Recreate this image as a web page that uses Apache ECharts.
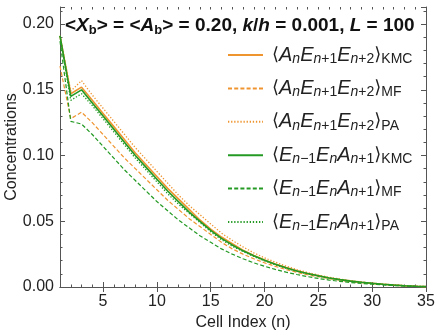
<!DOCTYPE html>
<html>
<head>
<meta charset="utf-8">
<script src="https://cdn.jsdelivr.net/npm/echarts@6/dist/echarts.min.js"></script>
<style>html,body{margin:0;background:#fff}#c{width:438px;height:330px}</style>
</head>
<body>
<div id="c"></div>
<script>
/* concentraciones de tripletes por celda: KMC vs campo medio (MF) vs aprox. de pares (PA) */
const CELL = [1,2,3,4,5,6,7,8,9,10,11,12,13,14,15,16,17,18,19,20,21,22,23,24,25,26,27,28,29,30,31,32,33,34,35];
const X_TICKS = [5,10,15,20,25,30,35];

// <A_n E_n+1 E_n+2>
const AEE_KMC = [0.191,0.147,0.152,0.142,0.132,0.122,0.112,0.102,0.093,0.084,0.075,0.067,0.059,0.051,0.044,0.038,0.033,0.028,0.024,0.0206,0.0175,0.0148,0.0124,0.0103,0.0086,0.0069,0.0056,0.0045,0.0036,0.0028,0.0021,0.0015,0.0010,0.0006,0.0003];
const AEE_MF  = [0.168,0.128,0.133,0.125,0.116,0.107,0.098,0.090,0.082,0.074,0.066,0.059,0.052,0.046,0.040,0.034,0.029,0.025,0.0215,0.0184,0.0157,0.0133,0.0112,0.0093,0.0078,0.0064,0.0052,0.0042,0.0033,0.0026,0.0020,0.0014,0.0009,0.0005,0.0002];
const AEE_PA  = [0.191,0.149,0.157,0.146,0.136,0.126,0.116,0.106,0.097,0.088,0.079,0.070,0.062,0.055,0.048,0.041,0.0355,0.0305,0.026,0.0222,0.0189,0.0159,0.0133,0.0110,0.0091,0.0074,0.0060,0.0048,0.0038,0.0029,0.0022,0.0016,0.0011,0.0006,0.0003];
// <E_n-1 E_n A_n+1>
const EEA_KMC = [0.191,0.145,0.150,0.140,0.130,0.120,0.110,0.100,0.091,0.082,0.073,0.065,0.057,0.050,0.043,0.037,0.032,0.0275,0.0237,0.0203,0.0173,0.0146,0.0122,0.0102,0.0085,0.0069,0.0056,0.0045,0.0036,0.0028,0.0021,0.0015,0.0010,0.0006,0.0003];
const EEA_MF  = [0.187,0.126,0.124,0.116,0.107,0.098,0.089,0.081,0.073,0.065,0.058,0.051,0.045,0.039,0.034,0.029,0.025,0.0215,0.0184,0.0158,0.0134,0.0113,0.0095,0.0079,0.0065,0.0053,0.0043,0.0034,0.0027,0.0021,0.0016,0.0011,0.0007,0.0004,0.0002];
const EEA_PA  = [0.191,0.142,0.147,0.138,0.128,0.118,0.108,0.098,0.089,0.080,0.071,0.063,0.056,0.049,0.042,0.036,0.031,0.027,0.0232,0.0199,0.0170,0.0143,0.0120,0.0100,0.0083,0.0068,0.0055,0.0044,0.0035,0.0027,0.0020,0.0014,0.0010,0.0006,0.0003];

const NAMES = ["aeeK","aeeM","aeeP","eeaK","eeaM","eeaP"];
const LABELS = {
  aeeK:"{t|⟨}{i|A}{si|n}{i|E}{si|n}{s|+1}{i|E}{si|n}{s|+2}{t|⟩}{s|KMC}",
  aeeM:"{t|⟨}{i|A}{si|n}{i|E}{si|n}{s|+1}{i|E}{si|n}{s|+2}{t|⟩}{s|MF}",
  aeeP:"{t|⟨}{i|A}{si|n}{i|E}{si|n}{s|+1}{i|E}{si|n}{s|+2}{t|⟩}{s|PA}",
  eeaK:"{t|⟨}{i|E}{si|n}{s|−1}{i|E}{si|n}{i|A}{si|n}{s|+1}{t|⟩}{s|KMC}",
  eeaM:"{t|⟨}{i|E}{si|n}{s|−1}{i|E}{si|n}{i|A}{si|n}{s|+1}{t|⟩}{s|MF}",
  eeaP:"{t|⟨}{i|E}{si|n}{s|−1}{i|E}{si|n}{i|A}{si|n}{s|+1}{t|⟩}{s|PA}"
};

const ORANGE = "#ef9530", GREEN = "#249a24";
const FONT = "Liberation Sans, Arial, sans-serif";
const pts = arr => CELL.map((n,i)=>[n, arr[i]]);
const serie = (name, arr, color, type, w) => ({
  name, type:"line", data:pts(arr), xAxisIndex:0, yAxisIndex:0,
  symbol:"none", lineStyle:{color, width:w, type}, itemStyle:{color}, z:3
});

const DASH = [4,2.2], DOT = [1.3,1.8];
const AX = "#555";
const frame = {lineStyle:{color:AX,width:1}};

const chart = echarts.init(document.getElementById("c"));
chart.setOption({
  animation:false,
  textStyle:{fontFamily:FONT},
  title:{
    left:60, top:10,
    text:"<{i|X}{sb|b}> = <{i|A}{sb|b}> = 0.20, {i|k}/{i|h} = 0.001, {i|L} = 100",
    textStyle:{fontFamily:FONT,fontSize:19,fontWeight:"bold",color:"#111",lineHeight:22,
      rich:{
        i:{fontFamily:FONT,fontSize:19,fontWeight:"bold",fontStyle:"italic",color:"#111",lineHeight:22},
        sb:{fontFamily:FONT,fontSize:13,fontWeight:"bold",color:"#111",lineHeight:12,verticalAlign:"bottom"}
      }}
  },
  legend:{
    data:NAMES, orient:"vertical", left:227, top:45,
    itemWidth:35, itemHeight:14, itemGap:12.4, padding:0,
    itemStyle:{opacity:0},
    formatter:n=>LABELS[n],
    textStyle:{color:"#222",padding:[0,0,0,4],
      rich:{
        t:{fontFamily:"DejaVu Sans",fontSize:18,color:"#222",lineHeight:22},
        i:{fontFamily:FONT,fontSize:20,fontStyle:"italic",color:"#222",lineHeight:22},
        si:{fontFamily:FONT,fontSize:14,fontStyle:"italic",color:"#222",lineHeight:13,verticalAlign:"bottom"},
        s:{fontFamily:FONT,fontSize:14,color:"#222",lineHeight:13,verticalAlign:"bottom"}
      }}
  },
  grid:[
    {left:60,right:12,top:7,bottom:43,outerBoundsMode:"none"},
    {left:60,right:12,top:7,bottom:43,outerBoundsMode:"none"}
  ],
  xAxis:[
    {gridIndex:0,type:"value",position:"bottom",min:1,max:35,
     name:"Cell Index (n)",nameLocation:"middle",nameGap:28,nameMoveOverlap:false,
     nameTextStyle:{fontFamily:FONT,fontSize:16,color:"#222"},
     axisLine:frame,
     axisTick:{inside:true,length:5,customValues:X_TICKS,lineStyle:{color:AX}},
     axisLabel:{customValues:X_TICKS,fontSize:16,color:"#222",margin:7},
     splitLine:{show:false}},
    {gridIndex:0,type:"value",position:"top",min:1,max:35,
     axisLine:frame,
     axisTick:{inside:true,length:5,customValues:X_TICKS,lineStyle:{color:AX}},
     axisLabel:{show:false},splitLine:{show:false}},
    {gridIndex:1,type:"value",position:"bottom",min:1,max:35,interval:1,
     axisLine:{show:false},axisTick:{inside:true,length:2.5,lineStyle:{color:AX}},
     axisLabel:{show:false},splitLine:{show:false}},
    {gridIndex:1,type:"value",position:"top",min:1,max:35,interval:1,
     axisLine:{show:false},axisTick:{inside:true,length:2.5,lineStyle:{color:AX}},
     axisLabel:{show:false},splitLine:{show:false}}
  ],
  yAxis:[
    {gridIndex:0,type:"value",position:"left",min:0,max:0.213,interval:0.05,
     name:"Concentrations",nameLocation:"middle",nameGap:40,nameMoveOverlap:false,
     nameTextStyle:{fontFamily:FONT,fontSize:16,color:"#222"},
     axisLine:{show:true,...frame},
     axisTick:{inside:true,length:5,lineStyle:{color:AX}},
     minorTick:{show:true,splitNumber:5,length:2.5,lineStyle:{color:AX}},
     axisLabel:{fontSize:16,color:"#222",margin:6,
       formatter:v=>Math.abs(v*20-Math.round(v*20))<1e-6?v.toFixed(2):""},
     splitLine:{show:false}},
    {gridIndex:0,type:"value",position:"right",min:0,max:0.213,interval:0.05,
     axisLine:{show:true,...frame},
     axisTick:{inside:true,length:5,lineStyle:{color:AX}},
     minorTick:{show:true,splitNumber:5,length:2.5,lineStyle:{color:AX}},
     axisLabel:{show:false},splitLine:{show:false}},
    {gridIndex:1,type:"value",min:0,max:0.213,show:false}
  ],
  series:[
    serie("aeeK",AEE_KMC,ORANGE,"solid",1.6),
    serie("aeeM",AEE_MF,ORANGE,DASH,1.2),
    serie("aeeP",AEE_PA,ORANGE,DOT,1.3),
    serie("eeaK",EEA_KMC,GREEN,"solid",1.6),
    serie("eeaM",EEA_MF,GREEN,DASH,1.2),
    serie("eeaP",EEA_PA,GREEN,DOT,1.3)
  ]
});
</script>
</body>
</html>
